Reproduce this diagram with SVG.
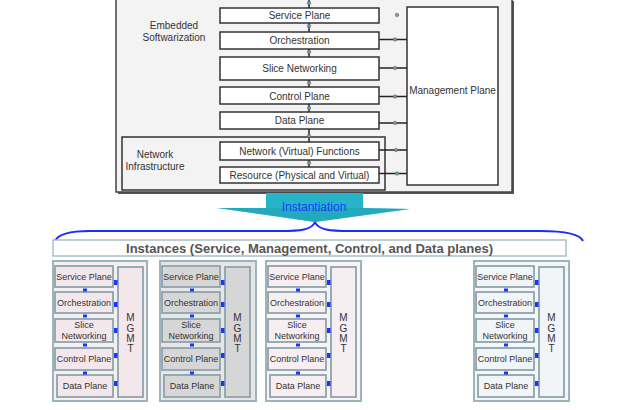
<svg xmlns="http://www.w3.org/2000/svg" width="625" height="410" viewBox="0 0 625 410">
<defs>
<style>
text{font-family:"Liberation Sans",Arial,sans-serif;fill:#333;}
.t10{font-size:10px;text-anchor:middle;}
.sb{fill:#fff;stroke:#333;stroke-width:1.5;}
.ln{stroke:#222;stroke-width:1.5;fill:none;}
.dot{fill:#7b96a3;stroke:#4d6470;stroke-width:0.5;}
.pn{stroke:#9fb3bb;stroke-width:2;}
.ib{stroke:#8ea4ad;stroke-width:1.8;}
.it{font-size:9px;text-anchor:middle;fill:#333;}
.bq{fill:#1438ff;}
</style>
<g id="panel">
  <rect class="ib" x="2" y="5" width="58" height="21"/>
  <rect class="ib" x="2" y="31" width="58" height="21"/>
  <rect class="ib" x="2" y="58" width="58" height="23"/>
  <rect class="ib" x="2" y="87" width="58" height="22"/>
  <rect class="ib" x="4" y="114" width="56" height="22"/>
  <rect class="ib" x="65" y="6" width="25" height="130"/>
  <text class="it" x="31" y="19">Service Plane</text>
  <text class="it" x="31" y="45">Orchestration</text>
  <text class="it" x="31" y="67">Slice</text>
  <text class="it" x="31" y="78">Networking</text>
  <text class="it" x="31" y="101">Control Plane</text>
  <text class="it" x="32" y="128">Data Plane</text>
  <text class="it" x="77.5" y="60" style="font-size:10px">M</text>
  <text class="it" x="77.5" y="71" style="font-size:10px">G</text>
  <text class="it" x="77.5" y="81" style="font-size:10px">M</text>
  <text class="it" x="77.5" y="91" style="font-size:10px">T</text>
  <rect class="bq" x="30" y="27.5" width="4" height="3"/>
  <rect class="bq" x="30" y="53.5" width="4" height="3"/>
  <rect class="bq" x="30" y="82.5" width="4" height="3"/>
  <rect class="bq" x="30" y="110.5" width="4" height="3"/>
  <rect class="bq" x="61" y="19" width="3.5" height="5"/>
  <rect class="bq" x="61" y="41" width="3.5" height="5"/>
  <rect class="bq" x="61" y="67" width="3.5" height="5"/>
  <rect class="bq" x="61" y="92" width="3.5" height="5"/>
  <rect class="bq" x="61" y="120" width="3.5" height="5"/>
</g>
</defs>

<g id="embedded">
  <rect x="118" y="1" width="396" height="193" fill="#555"/>
  <rect x="116" y="-1" width="396" height="193" fill="#f3f3f3" stroke="#444" stroke-width="1.5"/>
  <text class="t10" x="174" y="29">Embedded</text>
  <text class="t10" x="174" y="41">Softwarization</text>
</g>

<g id="network-infrastructure">
  <rect x="122" y="137" width="263" height="53" fill="none" stroke="#333" stroke-width="1.5"/>
  <text class="t10" x="155" y="158">Network</text>
  <text class="t10" x="155" y="170">Infrastructure</text>
</g>

<g id="connectors">
  <line class="ln" x1="309" y1="0" x2="309" y2="8"/>
  <line class="ln" x1="309" y1="23" x2="309" y2="32"/>
  <line class="ln" x1="309" y1="49" x2="309" y2="57"/>
  <line class="ln" x1="309" y1="80" x2="309" y2="87"/>
  <line class="ln" x1="309" y1="104" x2="309" y2="112"/>
  <line class="ln" x1="309" y1="129" x2="309" y2="142"/>
  <line class="ln" x1="309" y1="160" x2="309" y2="167"/>
  <circle class="dot" cx="309" cy="3" r="1.8"/>
  <circle class="dot" cx="309" cy="26" r="1.8"/>
  <circle class="dot" cx="309" cy="52" r="1.8"/>
  <circle class="dot" cx="309" cy="83" r="1.8"/>
  <circle class="dot" cx="309" cy="108" r="1.8"/>
  <circle class="dot" cx="309" cy="136" r="1.8"/>
  <circle class="dot" cx="309" cy="163" r="1.8"/>
  <line class="ln" x1="379" y1="39.5" x2="407" y2="39.5"/>
  <line class="ln" x1="379" y1="68" x2="407" y2="68"/>
  <line class="ln" x1="379" y1="96.5" x2="407" y2="96.5"/>
  <line class="ln" x1="379" y1="123" x2="407" y2="123"/>
  <line class="ln" x1="379" y1="150" x2="407" y2="150"/>
  <line class="ln" x1="379" y1="173.5" x2="407" y2="173.5"/>
  <circle class="dot" cx="397" cy="15" r="1.8"/>
  <circle class="dot" cx="395" cy="39.5" r="1.8"/>
  <circle class="dot" cx="395" cy="68" r="1.8"/>
  <circle class="dot" cx="395" cy="96.5" r="1.8"/>
  <circle class="dot" cx="395" cy="123" r="1.8"/>
  <circle class="dot" cx="396" cy="150" r="1.8"/>
  <circle class="dot" cx="397" cy="173.5" r="1.8"/>
</g>

<g id="service-plane"><rect class="sb" x="220" y="8" width="159" height="15"/><text class="t10" x="299.5" y="19">Service Plane</text></g>
<g id="orchestration"><rect class="sb" x="220" y="32" width="159" height="17"/><text class="t10" x="299.5" y="44">Orchestration</text></g>
<g id="slice-networking"><rect class="sb" x="220" y="57" width="159" height="23"/><text class="t10" x="299.5" y="72">Slice Networking</text></g>
<g id="control-plane"><rect class="sb" x="220" y="87" width="159" height="17"/><text class="t10" x="299.5" y="100">Control Plane</text></g>
<g id="data-plane"><rect class="sb" x="220" y="112" width="159" height="17"/><text class="t10" x="299.5" y="124">Data Plane</text></g>
<g id="nvf"><rect class="sb" x="220" y="142" width="159" height="18"/><text class="t10" x="299.5" y="154.5">Network (Virtual) Functions</text></g>
<g id="resource"><rect class="sb" x="220" y="167" width="159" height="16"/><text class="t10" x="299.5" y="179">Resource (Physical and Virtual)</text></g>
<g id="management-plane"><rect class="sb" x="407" y="7" width="91" height="178"/><text class="t10" x="452.5" y="94">Management Plane</text></g>

<g id="instantiation">
  <polygon points="266,193 363,193 363,208 410,209 315,222 217,208 266,208" fill="#27b3c8"/>
  <polygon points="266,208 217,208 315,222 410,209 363,208" fill="#1f9fb3" opacity="0.5"/>
  <text x="314" y="211" style="font-size:12px;text-anchor:middle;fill:#1c3cff">Instantiation</text>
</g>

<g id="brace">
  <path d="M315,222 C312,230 300,231 280,231 L90,231 C70,231 58,234 55,241 M315,222 C318,230 330,231 350,231 L540,231 C565,231 580,234 583,241" fill="none" stroke="#1a2cff" stroke-width="2"/>
</g>

<g id="instances">
  <rect x="53" y="240" width="513" height="16" fill="#fff" stroke="#a9bfc6" stroke-width="1.5"/>
  <text x="126" y="253" textLength="367" lengthAdjust="spacingAndGlyphs" style="font-size:12.5px;font-weight:bold;fill:#555">Instances (Service, Management, Control, and Data planes)</text>
</g>

<g id="instance-1" transform="translate(53,261)">
  <rect class="pn" x="0" y="0" width="94" height="140" fill="#f4f0f1"/>
  <g fill="#f3e7eb"><use href="#panel"/></g>
</g>
<g id="instance-2" transform="translate(160,261)">
  <rect class="pn" x="0" y="0" width="96" height="140" fill="#e6e6e6"/>
  <g fill="#d6d6d6"><use href="#panel"/></g>
</g>
<g id="instance-3" transform="translate(266,261)">
  <rect class="pn" x="0" y="0" width="95" height="140" fill="#f7f4f5"/>
  <g fill="#f6eef1"><use href="#panel"/></g>
</g>
<g id="instance-4" transform="translate(474,261)">
  <rect class="pn" x="0" y="0" width="95" height="140" fill="#f4f7f8"/>
  <g fill="#f1f5f7"><use href="#panel"/></g>
</g>
</svg>
